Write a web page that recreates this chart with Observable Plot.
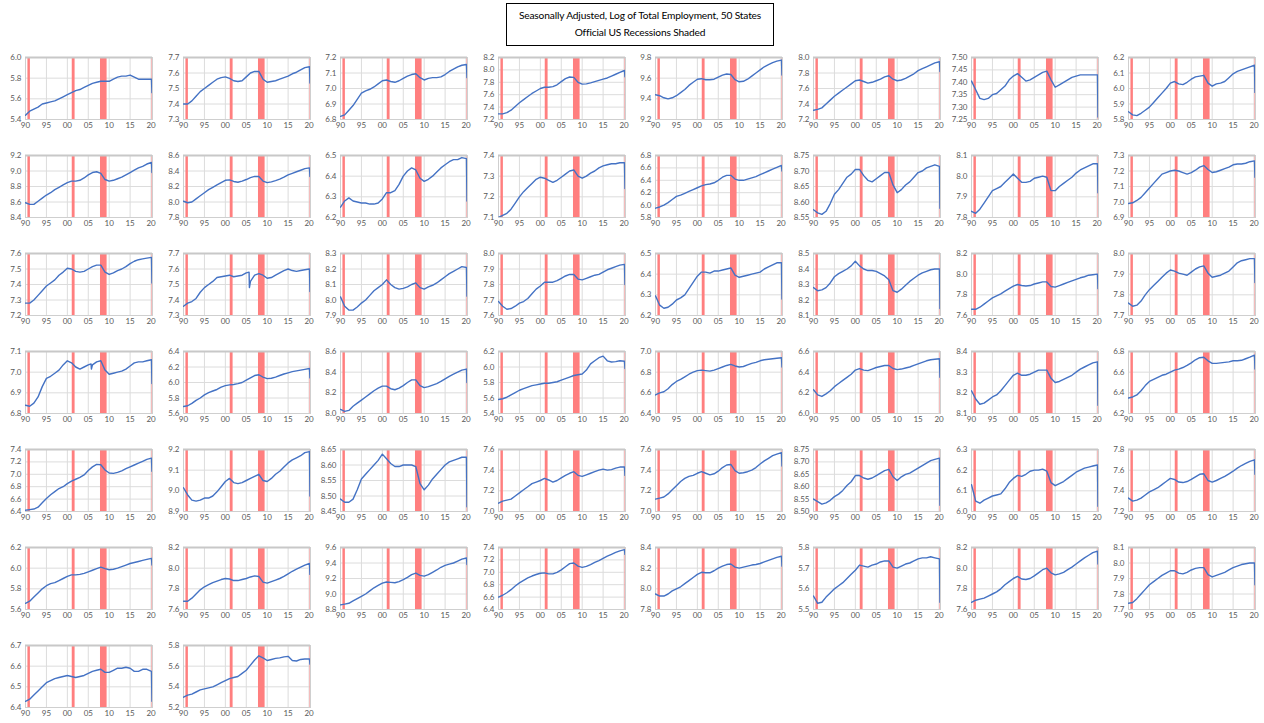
<!DOCTYPE html>
<html><head><meta charset="utf-8">
<script src="https://cdn.jsdelivr.net/npm/d3@7"></script>
<script src="https://cdn.jsdelivr.net/npm/@observablehq/plot@0.6"></script>
<style>
body{margin:0;background:#fff;}
#wrap{position:relative;width:1264px;height:723px;font-family:Lato,"Open Sans",sans-serif;overflow:hidden;}
#title{position:absolute;left:506px;top:3px;width:266px;height:38px;border:1px solid #000;text-align:center;font-size:10.2px;line-height:17px;padding-top:3px;color:#000;white-space:nowrap;letter-spacing:-0.15px;}
</style></head><body>
<div id="wrap"><div id="title">Seasonally Adjusted, Log of Total Employment, 50 States<br>Official US Recessions Shaded</div></div>
<script>
const years = [1990,1991,1992,1993,1994,1995,1996,1997,1998,1999,2000,2001,2002,2003,2004,2005,2006,2007,2008,2009,2010,2011,2012,2013,2014,2015,2016,2017,2018,2019,2020.1,2020.22];
const xTicks = [1990,1995,2000,2005,2010,2015,2020];
const xTickLabels = ["90","95","00","05","10","15","20"];
const recessions = [[1990.58,1991.17],[2001.17,2001.85],[2007.92,2009.5],[2020.12,2020.35]];
const states = ["AK","AL","AR","AZ","CA","CO","CT","DE","FL","GA","HI","IA","ID","IL","IN","KS","KY","LA","MA","MD","ME","MI","MN","MO","MS","MT","NC","ND","NE","NH","NJ","NM","NV","NY","OH","OK","OR","PA","RI","SC","SD","TN","TX","UT","VA","VT","WA","WI","WV","WY"];
// [min, max, step] of each panel's y axis
const yRanges = [
[5.4,6.0,0.2],[7.3,7.7,0.1],[6.8,7.2,0.1],[7.2,8.2,0.2],[9.2,9.8,0.2],[7.2,8.0,0.2],[7.25,7.50,0.05],[5.8,6.2,0.1],
[8.4,9.2,0.2],[7.8,8.6,0.2],[6.2,6.5,0.1],[7.1,7.4,0.1],[5.8,6.8,0.2],[8.55,8.75,0.05],[7.8,8.1,0.1],[6.9,7.3,0.1],
[7.2,7.6,0.1],[7.3,7.7,0.1],[7.9,8.3,0.1],[7.6,8.0,0.1],[6.2,6.5,0.1],[8.1,8.5,0.1],[7.6,8.2,0.2],[7.7,8.0,0.1],
[6.8,7.1,0.1],[5.6,6.4,0.2],[8.0,8.6,0.2],[5.4,6.2,0.2],[6.4,7.0,0.2],[6.0,6.6,0.2],[8.1,8.4,0.1],[6.2,6.8,0.2],
[6.4,7.4,0.2],[8.9,9.2,0.1],[8.45,8.65,0.05],[7.0,7.6,0.2],[7.0,7.6,0.2],[8.50,8.75,0.05],[6.0,6.3,0.1],[7.2,7.8,0.2],
[5.6,6.2,0.2],[7.6,8.2,0.2],[8.8,9.6,0.2],[6.4,7.4,0.2],[7.8,8.4,0.2],[5.5,5.8,0.1],[7.6,8.2,0.2],[7.7,8.1,0.1],
[6.4,6.7,0.1],[5.2,5.8,0.2]];

const AK = [5.44,5.48,5.50,5.52,5.55,5.56,5.57,5.58,5.60,5.62, 5.64,5.66,5.68,5.69,5.71,5.73,5.75,5.76,5.77,5.77, 5.77,5.79,5.81,5.82,5.82,5.83,5.81,5.79,5.79,5.79, 5.79,5.66];
const AL = [7.40,7.40,7.42,7.45,7.48,7.50,7.52,7.54,7.56,7.57, 7.575,7.565,7.55,7.545,7.55,7.575,7.60,7.61,7.61,7.56, 7.54,7.545,7.55,7.56,7.57,7.58,7.595,7.605,7.62,7.635, 7.64,7.535];
const AR = [6.82,6.83,6.86,6.89,6.93,6.97,6.985,6.995,7.01,7.03, 7.05,7.055,7.045,7.04,7.05,7.065,7.08,7.09,7.095,7.07, 7.055,7.065,7.07,7.07,7.075,7.09,7.11,7.125,7.14,7.15, 7.155,7.07];
const AZ = [7.29,7.29,7.31,7.35,7.41,7.47,7.52,7.57,7.62,7.66, 7.70,7.72,7.72,7.73,7.76,7.81,7.86,7.885,7.88,7.80, 7.77,7.775,7.79,7.81,7.83,7.85,7.87,7.90,7.93,7.96, 7.99,7.89];
const CA = [9.44,9.43,9.41,9.40,9.41,9.43,9.46,9.49,9.53,9.56, 9.59,9.595,9.585,9.585,9.59,9.61,9.63,9.64,9.635,9.585, 9.565,9.57,9.59,9.62,9.65,9.68,9.71,9.73,9.75,9.765, 9.775,9.63];
const CO = [7.32,7.33,7.35,7.40,7.45,7.50,7.54,7.58,7.62,7.66, 7.70,7.71,7.69,7.67,7.68,7.70,7.72,7.75,7.765,7.72, 7.70,7.71,7.73,7.76,7.79,7.83,7.855,7.88,7.905,7.93, 7.945,7.82];
const CT = [7.405,7.37,7.335,7.33,7.335,7.35,7.355,7.37,7.385,7.41, 7.425,7.435,7.42,7.405,7.41,7.42,7.43,7.44,7.445,7.41, 7.38,7.39,7.40,7.41,7.42,7.425,7.43,7.43,7.43,7.43, 7.43,7.26];
const DE = [5.85,5.83,5.825,5.84,5.86,5.88,5.91,5.94,5.97,6.00, 6.035,6.045,6.03,6.025,6.04,6.06,6.075,6.08,6.085,6.035, 6.015,6.03,6.035,6.045,6.07,6.095,6.11,6.12,6.13,6.14, 6.15,5.975];
const FL = [8.59,8.57,8.57,8.61,8.65,8.69,8.72,8.76,8.79,8.82, 8.85,8.87,8.87,8.88,8.91,8.95,8.98,8.99,8.97,8.89, 8.87,8.88,8.90,8.92,8.95,8.98,9.01,9.04,9.06,9.09, 9.11,8.98];
const GA = [8.01,7.99,8.00,8.04,8.08,8.12,8.16,8.19,8.22,8.25, 8.28,8.285,8.265,8.255,8.27,8.29,8.315,8.33,8.33,8.27, 8.25,8.26,8.275,8.295,8.32,8.35,8.37,8.39,8.41,8.43, 8.44,8.33];
const HI = [6.25,6.28,6.295,6.28,6.275,6.27,6.27,6.265,6.265,6.27, 6.29,6.32,6.32,6.33,6.36,6.40,6.425,6.44,6.43,6.39, 6.375,6.385,6.40,6.42,6.44,6.455,6.47,6.48,6.48,6.49, 6.485,6.28];
const IA = [7.10,7.11,7.12,7.14,7.17,7.20,7.225,7.245,7.265,7.285, 7.295,7.29,7.28,7.27,7.28,7.295,7.31,7.325,7.33,7.30, 7.29,7.30,7.315,7.325,7.34,7.35,7.355,7.36,7.36,7.365, 7.365,7.24];
const ID = [5.95,5.97,6.00,6.04,6.09,6.14,6.16,6.19,6.22,6.25, 6.28,6.31,6.33,6.34,6.36,6.40,6.45,6.48,6.48,6.42, 6.40,6.40,6.42,6.44,6.46,6.49,6.52,6.55,6.58,6.61, 6.64,6.55];
const IL = [8.575,8.565,8.56,8.57,8.595,8.625,8.64,8.66,8.68,8.69, 8.705,8.705,8.685,8.67,8.665,8.675,8.685,8.695,8.695,8.655, 8.63,8.64,8.655,8.665,8.68,8.695,8.70,8.71,8.715,8.72, 8.715,8.58];
const IN = [7.83,7.82,7.84,7.87,7.90,7.93,7.94,7.95,7.97,7.99, 8.01,7.99,7.97,7.97,7.975,7.99,7.995,8.00,7.995,7.93, 7.93,7.95,7.965,7.98,7.995,8.015,8.03,8.04,8.05,8.06, 8.06,7.92];
const KS = [6.99,6.995,7.01,7.03,7.06,7.09,7.12,7.15,7.18,7.19, 7.20,7.205,7.20,7.19,7.18,7.19,7.205,7.225,7.235,7.21, 7.19,7.195,7.205,7.215,7.225,7.24,7.245,7.245,7.25,7.26, 7.265,7.16];
const KY = [7.28,7.28,7.30,7.33,7.36,7.39,7.41,7.43,7.46,7.48, 7.505,7.50,7.485,7.48,7.485,7.50,7.515,7.525,7.525,7.48, 7.465,7.475,7.49,7.50,7.515,7.535,7.55,7.56,7.565,7.57, 7.575,7.41];
const LA = [7.36,7.38,7.39,7.41,7.45,7.48,7.50,7.52,7.545,7.55, 7.555,7.56,7.55,7.555,7.56,7.575,7.52,7.56,7.57,7.56, 7.54,7.545,7.56,7.575,7.59,7.60,7.59,7.585,7.59,7.595, 7.60,7.455];
const MA = [8.02,7.96,7.935,7.935,7.955,7.98,8.00,8.03,8.06,8.08, 8.10,8.13,8.10,8.08,8.07,8.075,8.085,8.10,8.11,8.08, 8.07,8.085,8.095,8.11,8.13,8.15,8.17,8.185,8.20,8.215, 8.21,8.025];
const MD = [7.69,7.66,7.64,7.645,7.66,7.68,7.69,7.71,7.74,7.77, 7.79,7.815,7.815,7.815,7.825,7.84,7.855,7.865,7.865,7.835, 7.83,7.84,7.85,7.86,7.865,7.88,7.895,7.905,7.915,7.925, 7.93,7.80];
const ME = [6.295,6.25,6.235,6.24,6.255,6.275,6.285,6.30,6.33,6.36, 6.39,6.41,6.41,6.405,6.415,6.415,6.42,6.425,6.43,6.395, 6.385,6.39,6.395,6.40,6.405,6.41,6.425,6.435,6.445,6.455, 6.455,6.28];
const MI = [8.28,8.26,8.265,8.28,8.31,8.35,8.37,8.385,8.40,8.42, 8.45,8.42,8.40,8.39,8.39,8.385,8.37,8.355,8.33,8.26, 8.25,8.27,8.295,8.32,8.34,8.36,8.375,8.385,8.395,8.40, 8.40,8.145];
const MN = [7.66,7.66,7.68,7.71,7.74,7.77,7.79,7.81,7.835,7.86, 7.885,7.90,7.89,7.885,7.89,7.905,7.915,7.925,7.925,7.88, 7.875,7.89,7.905,7.92,7.935,7.95,7.965,7.975,7.99,7.995, 8.00,7.86];
const MO = [7.76,7.745,7.75,7.77,7.80,7.825,7.845,7.865,7.885,7.905, 7.92,7.915,7.905,7.90,7.895,7.91,7.925,7.935,7.94,7.905, 7.885,7.89,7.895,7.905,7.915,7.935,7.955,7.965,7.97,7.975, 7.975,7.86];
const MS = [6.84,6.835,6.85,6.88,6.93,6.97,6.98,6.995,7.01,7.035, 7.055,7.045,7.025,7.015,7.025,7.035,7.035,7.05,7.055,7.01, 6.99,6.995,7.00,7.005,7.015,7.03,7.045,7.05,7.05,7.055, 7.06,6.945];
const MT = [5.69,5.70,5.73,5.77,5.80,5.84,5.87,5.89,5.91,5.94, 5.96,5.97,5.975,5.985,6.00,6.03,6.06,6.09,6.10,6.07, 6.05,6.055,6.07,6.09,6.11,6.125,6.14,6.15,6.16,6.17, 6.18,6.06];
const NC = [8.04,8.02,8.03,8.07,8.10,8.13,8.16,8.19,8.22,8.245, 8.265,8.265,8.24,8.23,8.245,8.27,8.30,8.325,8.325,8.27, 8.25,8.26,8.275,8.29,8.31,8.335,8.36,8.38,8.40,8.42, 8.43,8.30];
const ND = [5.58,5.59,5.61,5.64,5.67,5.70,5.72,5.74,5.76,5.77, 5.78,5.79,5.79,5.80,5.81,5.83,5.85,5.87,5.89,5.90, 5.91,5.96,6.04,6.08,6.12,6.14,6.08,6.065,6.07,6.08, 6.075,5.98];
const NE = [6.58,6.60,6.61,6.64,6.68,6.71,6.73,6.755,6.78,6.80, 6.815,6.82,6.815,6.81,6.82,6.835,6.85,6.865,6.875,6.86, 6.85,6.855,6.87,6.885,6.895,6.91,6.92,6.925,6.93,6.935, 6.94,6.85];
const NH = [6.23,6.18,6.165,6.19,6.22,6.26,6.29,6.32,6.35,6.38, 6.42,6.435,6.42,6.415,6.43,6.445,6.455,6.465,6.465,6.435, 6.425,6.43,6.44,6.45,6.465,6.48,6.495,6.51,6.52,6.525, 6.53,6.35];
const NJ = [8.21,8.17,8.145,8.15,8.165,8.18,8.19,8.21,8.235,8.26, 8.285,8.295,8.285,8.285,8.29,8.30,8.31,8.31,8.31,8.27, 8.25,8.255,8.265,8.275,8.285,8.30,8.315,8.325,8.335,8.345, 8.35,8.14];
const NM = [6.35,6.36,6.38,6.42,6.47,6.51,6.53,6.55,6.57,6.58, 6.60,6.62,6.63,6.645,6.665,6.69,6.72,6.74,6.745,6.71, 6.685,6.685,6.69,6.695,6.70,6.71,6.71,6.715,6.73,6.745, 6.765,6.63];
const NV = [6.42,6.43,6.44,6.47,6.54,6.61,6.67,6.72,6.77,6.80, 6.85,6.89,6.92,6.95,6.99,7.06,7.12,7.16,7.155,7.07, 7.02,7.015,7.03,7.055,7.09,7.12,7.15,7.18,7.21,7.24, 7.26,7.05];
const NY = [9.015,8.98,8.955,8.95,8.955,8.965,8.965,8.975,8.995,9.02, 9.045,9.06,9.04,9.035,9.04,9.05,9.06,9.07,9.08,9.05, 9.045,9.06,9.08,9.095,9.115,9.135,9.15,9.16,9.17,9.185, 9.19,8.975];
const OH = [8.49,8.48,8.48,8.49,8.52,8.555,8.57,8.585,8.60,8.615, 8.635,8.62,8.605,8.595,8.595,8.60,8.60,8.60,8.595,8.54, 8.52,8.535,8.555,8.57,8.585,8.60,8.61,8.615,8.62,8.625, 8.625,8.465];
const OK = [7.08,7.10,7.11,7.12,7.15,7.18,7.21,7.24,7.27,7.285, 7.30,7.32,7.305,7.285,7.30,7.325,7.35,7.37,7.385,7.35, 7.34,7.355,7.37,7.385,7.40,7.41,7.40,7.405,7.42,7.43, 7.43,7.35];
const OR = [7.12,7.13,7.14,7.17,7.21,7.25,7.29,7.32,7.34,7.35, 7.37,7.385,7.37,7.355,7.365,7.39,7.425,7.45,7.455,7.395, 7.37,7.375,7.385,7.40,7.425,7.46,7.49,7.515,7.54,7.555, 7.57,7.44];
const PA = [8.55,8.54,8.53,8.535,8.545,8.56,8.57,8.585,8.605,8.62, 8.645,8.645,8.635,8.63,8.635,8.645,8.655,8.665,8.67,8.64, 8.625,8.64,8.65,8.655,8.665,8.675,8.685,8.695,8.705,8.71, 8.715,8.525];
const RI = [6.13,6.05,6.04,6.055,6.065,6.075,6.08,6.085,6.11,6.14, 6.16,6.175,6.17,6.18,6.195,6.20,6.20,6.205,6.195,6.14, 6.125,6.135,6.145,6.16,6.175,6.19,6.20,6.21,6.215,6.22, 6.225,6.025];
const SC = [7.33,7.30,7.31,7.33,7.36,7.39,7.41,7.43,7.46,7.49, 7.52,7.51,7.485,7.48,7.49,7.51,7.535,7.56,7.565,7.50, 7.485,7.50,7.52,7.54,7.565,7.59,7.62,7.645,7.665,7.685, 7.70,7.56];
const SD = [5.66,5.68,5.72,5.76,5.80,5.83,5.85,5.86,5.88,5.90, 5.92,5.935,5.935,5.94,5.95,5.965,5.98,5.995,6.01,5.995, 5.985,5.99,6.00,6.015,6.03,6.045,6.055,6.065,6.075,6.085, 6.095,6.03];
const TN = [7.68,7.68,7.71,7.75,7.79,7.82,7.84,7.86,7.875,7.89, 7.90,7.895,7.88,7.88,7.89,7.90,7.915,7.925,7.92,7.865, 7.855,7.87,7.885,7.90,7.92,7.945,7.97,7.99,8.01,8.03, 8.045,7.94];
const TX = [8.86,8.87,8.88,8.91,8.94,8.97,9.00,9.04,9.08,9.11, 9.14,9.155,9.15,9.145,9.16,9.185,9.215,9.25,9.27,9.24, 9.23,9.25,9.28,9.31,9.345,9.37,9.385,9.40,9.425,9.45, 9.465,9.38];
const UT = [6.60,6.63,6.67,6.72,6.78,6.83,6.87,6.91,6.94,6.965, 6.985,6.99,6.975,6.975,7.00,7.04,7.09,7.14,7.15,7.10, 7.08,7.095,7.125,7.16,7.19,7.225,7.26,7.29,7.32,7.345, 7.365,7.29];
const VA = [7.95,7.93,7.93,7.95,7.98,8.00,8.02,8.05,8.08,8.11, 8.14,8.16,8.155,8.155,8.175,8.20,8.22,8.235,8.24,8.21, 8.20,8.21,8.22,8.23,8.235,8.245,8.26,8.275,8.29,8.305, 8.315,8.22];
const VT = [5.565,5.53,5.535,5.56,5.58,5.60,5.615,5.63,5.65,5.67, 5.69,5.715,5.71,5.705,5.715,5.72,5.73,5.735,5.735,5.705, 5.70,5.71,5.72,5.725,5.735,5.745,5.75,5.75,5.755,5.75, 5.745,5.535];
const WA = [7.67,7.69,7.70,7.71,7.73,7.75,7.77,7.80,7.84,7.87, 7.90,7.92,7.895,7.89,7.90,7.925,7.955,7.985,8.00,7.955, 7.935,7.945,7.96,7.985,8.01,8.04,8.07,8.10,8.125,8.15, 8.165,8.04];
const WI = [7.74,7.745,7.77,7.80,7.83,7.86,7.88,7.90,7.92,7.935, 7.95,7.95,7.935,7.93,7.94,7.955,7.965,7.97,7.97,7.925, 7.91,7.92,7.93,7.94,7.955,7.97,7.98,7.99,7.995,8.00, 8.00,7.86];
const WV = [6.43,6.44,6.46,6.48,6.50,6.52,6.53,6.54,6.545,6.55, 6.555,6.55,6.545,6.55,6.555,6.565,6.575,6.58,6.585,6.57, 6.57,6.58,6.59,6.59,6.595,6.59,6.575,6.575,6.585,6.585, 6.575,6.43];
const WY = [5.30,5.32,5.33,5.35,5.37,5.38,5.39,5.40,5.42,5.44, 5.46,5.48,5.49,5.50,5.53,5.56,5.61,5.66,5.70,5.68, 5.655,5.665,5.675,5.68,5.69,5.695,5.655,5.65,5.665,5.67, 5.67,5.62];
const extraPoints = {LA: [[2005.67, 7.58], [2005.75, 7.48]], MS: [[2005.67, 7.04], [2005.75, 7.015]]};

const series = {AK,AL,AR,AZ,CA,CO,CT,DE,FL,GA,HI,IA,ID,IL,IN,KS,KY,LA,MA,MD,ME,MI,MN,MO,MS,MT,NC,ND,NE,NH,NJ,NM,NV,NY,OH,OK,OR,PA,RI,SC,SD,TN,TX,UT,VA,VT,WA,WI,WV,WY};

const wrap = document.getElementById("wrap");
const font = "Lato, 'Open Sans', sans-serif";
const pastRecessions = recessions.slice(0, 3);
const currentRecession = recessions.slice(3);
states.forEach((st, i) => {
  const col = i % 8, row = Math.floor(i / 8);
  const [lo, hi, step] = yRanges[i];
  const n = Math.round((hi - lo) / step);
  const yTicks = d3.range(n + 1).map(k => +(lo + k * step).toFixed(3));
  const fmt = step < 0.1 ? d3.format(".2f") : d3.format(".1f");
  const pts = years.map((x, j) => ({x, y: series[st][j]}));
  (extraPoints[st] || []).forEach(([x, y]) => pts.push({x, y}));
  pts.sort((a, b) => a.x - b.x);
  const svg = Plot.plot({
    width: 158, height: 98,
    marginLeft: 25, marginRight: 6, marginTop: 12, marginBottom: 24,
    style: {fontFamily: font, fontSize: "8px", color: "#595959", background: "transparent", overflow: "visible"},
    x: {domain: [1990, 2020.35], label: null},
    y: {domain: [lo, hi], label: null},
    marks: [
      Plot.gridX(xTicks, {stroke: "#dcdcdc", strokeOpacity: 1}),
      Plot.gridY(yTicks, {stroke: "#dcdcdc", strokeOpacity: 1}),
      Plot.rect(pastRecessions, {x1: d => d[0], x2: d => d[1], fill: "#ff7f7f"}),
      Plot.rect(currentRecession, {x1: d => d[0], x2: d => d[1], fill: "#ff7f7f", fillOpacity: 0.45}),
      Plot.frame({stroke: "#cfcfcf", strokeWidth: 1}),
      Plot.ruleY([hi], {stroke: "#c8c8c8", strokeWidth: 2}),
      Plot.line(pts, {x: "x", y: "y", stroke: "#4472c4", strokeWidth: 1.4, clip: true}),
      Plot.axisX(xTicks, {tickSize: 0, tickPadding: 3, tickFormat: (d, k) => xTickLabels[k], label: null, fill: "#595959"}),
      Plot.axisY(yTicks, {tickSize: 0, tickPadding: 4, tickFormat: fmt, label: null, fill: "#595959"})
    ]
  });
  svg.style.position = "absolute";
  svg.style.left = (157.6 * col) + "px";
  svg.style.top = (45 + 98 * row) + "px";
  wrap.appendChild(svg);
});
</script>
</body></html>
